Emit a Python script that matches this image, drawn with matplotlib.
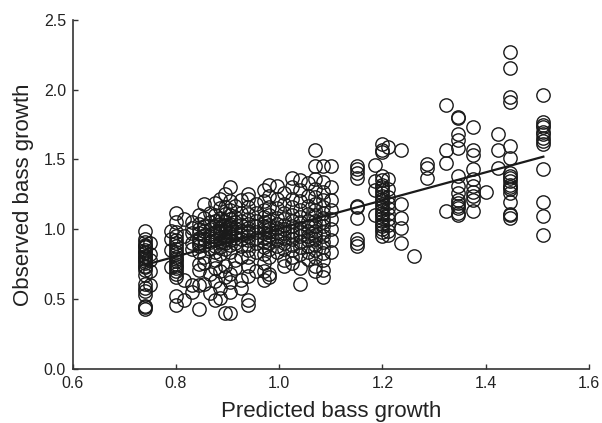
import numpy as np
import matplotlib
matplotlib.use("Agg")
import matplotlib.pyplot as plt
from matplotlib.ticker import FormatStrFormatter

plt.rcParams["font.family"] = ["Liberation Sans", "DejaVu Sans"]

# predicted values (columns) and the observed values read for each column
col_x = [0.74, 0.75, 0.79, 0.80, 0.815, 0.83, 0.845, 0.855, 0.865, 0.875,
         0.885, 0.895, 0.905, 0.915, 0.925, 0.94, 0.955, 0.97, 0.98, 0.995,
         1.01, 1.025, 1.04, 1.055, 1.07, 1.085, 1.10, 1.15, 1.185, 1.20,
         1.21, 1.237, 1.262, 1.286, 1.323, 1.346, 1.375, 1.40, 1.424, 1.447,
         1.512]

obs_low = [
    [0.99, 0.93, 0.91, 0.89, 0.87, 0.85, 0.83, 0.81, 0.79, 0.77, 0.76, 0.74,
     0.73, 0.71, 0.88, 0.84, 0.80, 0.67, 0.61, 0.58, 0.56, 0.53, 0.45, 0.43, 0.44],
    [0.90, 0.82, 0.70, 0.60, 0.78],
    [0.99, 0.93, 0.85, 0.73],
    [1.12, 1.05, 0.98, 0.95, 0.92, 0.90, 0.88, 0.86, 0.84, 0.82, 0.80, 0.79,
     0.77, 0.75, 0.74, 0.72, 0.70, 0.68, 0.66, 0.52, 0.46],
    [1.07, 0.95, 0.64, 0.49],
    [1.05, 1.01, 0.97, 0.90, 0.86, 0.60, 0.55],
    [1.10, 1.04, 1.00, 0.97, 0.94, 0.92, 0.90, 0.88, 0.84, 0.75, 0.71, 0.60, 0.43],
    [1.18, 1.08, 1.02, 0.99, 0.96, 0.93, 0.89, 0.80, 0.76, 0.61],
    [1.12, 1.05, 1.00, 0.95, 0.91, 0.86, 0.54, 0.68],
    [1.19, 1.10, 1.06, 1.02, 0.98, 0.95, 0.92, 0.88, 0.84, 0.78, 0.72, 0.63, 0.49],
]

obs_mid = [
    [1.22, 1.15, 1.08, 1.04, 1.01, 0.99, 0.97, 0.94, 0.91, 0.87, 0.82, 0.70, 0.58, 0.51],
    [1.25, 1.16, 1.11, 1.06, 1.03, 1.00, 0.98, 0.95, 0.93, 0.90, 0.86, 0.74, 0.66, 0.40],
    [1.30, 1.20, 1.14, 1.10, 1.07, 1.04, 1.02, 1.00, 0.97, 0.95, 0.92, 0.89, 0.84,
     0.68, 0.62, 0.55, 0.40],
    [1.17, 1.09, 1.05, 1.01, 0.98, 0.94, 0.90, 0.78, 0.72],
    [1.21, 1.12, 1.06, 1.03, 0.99, 0.96, 0.93, 0.88, 0.80, 0.64, 0.58],
    [1.25, 1.22, 1.16, 1.11, 1.07, 1.04, 1.01, 0.99, 0.97, 0.95, 0.92, 0.89, 0.85,
     0.80, 0.74, 0.665, 0.49, 0.46],
    [1.18, 1.12, 1.06, 1.02, 0.98, 0.94, 0.90, 0.84, 0.70],
    [1.28, 1.20, 1.14, 1.09, 1.05, 1.02, 1.00, 0.97, 0.94, 0.91, 0.87, 0.82, 0.76,
     0.70, 0.64],
    [1.32, 1.24, 1.16, 1.10, 1.06, 1.03, 1.00, 0.98, 0.96, 0.93, 0.90, 0.86, 0.80,
     0.68, 0.66],
    [1.31, 1.22, 1.15, 1.08, 1.04, 1.01, 0.98, 0.95, 0.92, 0.88, 0.84],
    [1.26, 1.18, 1.12, 1.07, 1.03, 1.00, 0.97, 0.94, 0.90, 0.86, 0.78, 0.74],
    [1.37, 1.30, 1.22, 1.16, 1.10, 1.06, 1.02, 0.99, 0.96, 0.93, 0.89, 0.85, 0.80, 0.76],
    [1.35, 1.28, 1.20, 1.14, 1.09, 1.05, 1.01, 0.98, 0.95, 0.91, 0.87, 0.82, 0.72, 0.61],
    [1.33, 1.24, 1.17, 1.11, 1.06, 1.02, 0.99, 0.95, 0.92, 0.88, 0.84, 0.79],
    [1.57, 1.45, 1.36, 1.29, 1.23, 1.18, 1.14, 1.10, 1.06, 1.02, 0.99, 0.96, 0.93,
     0.89, 0.85, 0.80, 0.74, 0.70],
    [1.45, 1.34, 1.27, 1.21, 1.16, 1.12, 1.08, 1.05, 1.02, 0.98, 0.95, 0.91, 0.87,
     0.83, 0.78, 0.71, 0.66],
    [1.45, 1.30, 1.21, 1.14, 1.07, 1.00, 0.92, 0.84],
]

obs_high = [
    [1.45, 1.43, 1.405, 1.37, 1.17, 1.16, 1.08, 0.93, 0.905, 0.88],
    [1.46, 1.345, 1.28, 1.10],
    [1.61, 1.57, 1.55, 1.38, 1.35, 1.32, 1.30, 1.28, 1.26, 1.24, 1.22, 1.20, 1.18,
     1.16, 1.14, 1.12, 1.10, 1.08, 1.06, 1.04, 1.02, 1.00, 0.98, 0.95],
    [1.59, 1.36, 1.29, 1.23, 1.19, 1.15, 1.11, 1.07, 1.03, 0.99, 0.96],
    [1.567, 1.18, 1.08, 1.01, 0.905],
    [0.81],
    [1.465, 1.44, 1.37],
    [1.89, 1.57, 1.476, 1.13],
    [1.805, 1.80, 1.68, 1.64, 1.58, 1.38, 1.31, 1.26, 1.21, 1.19, 1.17, 1.15, 1.12, 1.10],
    [1.73, 1.57, 1.535, 1.43, 1.36, 1.31, 1.27, 1.24, 1.21, 1.13],
    [1.27],
    [1.68, 1.57, 1.44],
    [2.27, 2.155, 1.95, 1.91, 1.595, 1.51, 1.40, 1.37, 1.345, 1.32, 1.29, 1.26,
     1.195, 1.107, 1.083, 1.38, 1.30, 1.10],
    [1.964, 1.77, 1.75, 1.73, 1.70, 1.68, 1.655, 1.63, 1.61, 1.43, 1.195, 1.095, 0.957],
]

# end points of the regression line
fit_x = [0.74, 1.512]
fit_y = [0.745, 1.52]

xticks = [0.6, 0.8, 1.0, 1.2, 1.4, 1.6]
yticks = [0.0, 0.5, 1.0, 1.5, 2.0, 2.5]

obs_cols = obs_low + obs_mid + obs_high
px, py = [], []
for xv, ys in zip(col_x, obs_cols):
    px += [xv] * len(ys)
    py += ys

fig = plt.figure(figsize=(6.02, 4.23), dpi=100)
ax = fig.add_axes([0.121, 0.128, 0.857, 0.825])

ax.plot(px, py, "o", ms=9.6, mfc="none", mec="#1a1a1a", mew=1.0, zorder=2)
ax.plot(fit_x, fit_y, "-", color="#1a1a1a", lw=1.6, zorder=3)

ax.set_xlim(0.6, 1.6)
ax.set_ylim(0.0, 2.5)
ax.set_xticks(xticks)
ax.set_yticks(yticks)
ax.xaxis.set_major_formatter(FormatStrFormatter("%.1f"))
ax.yaxis.set_major_formatter(FormatStrFormatter("%.1f"))

for side in ["top", "right"]:
    ax.spines[side].set_visible(False)
for side in ["left", "bottom"]:
    ax.spines[side].set_color("#333333")
    ax.spines[side].set_linewidth(1.2)

ax.tick_params(direction="in", length=3.5, width=1, colors="#333333",
               labelsize=11.5, labelcolor="#222222", pad=5)
ax.set_xlabel("Predicted bass growth", fontsize=16, color="#222222", labelpad=7)
ax.set_ylabel("Observed bass growth", fontsize=16, color="#222222", labelpad=7)

fig.savefig("out.png", dpi=100)
